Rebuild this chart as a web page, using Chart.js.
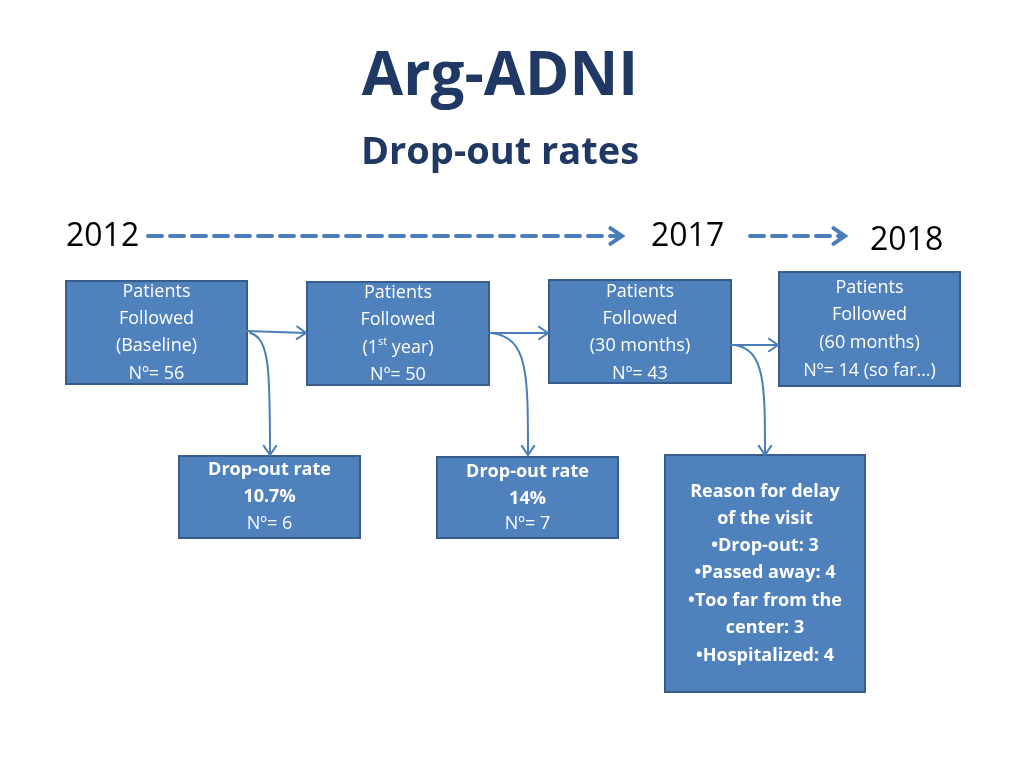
<!DOCTYPE html>
<html><head><meta charset="utf-8">
<script src="https://cdn.jsdelivr.net/npm/chart.js@4"></script>
<style>html,body{margin:0;padding:0;background:#fff}#c{display:block}</style>
</head><body>
<div style="width:1024px;height:768px"><canvas id="c"></canvas></div>
<script>
// Content
const title = "Arg-ADNI";
const subtitle = "Drop-out rates";
const years = ["2012", "2017", "2018"];
const boxTexts = [
  [["Patients",0],["Followed",0],["(Baseline)",0],["Nº= 56",0]],
  [["Patients",0],["Followed",0],["1st year)",0],["Nº= 50",0]],
  [["Patients",0],["Followed",0],["(30 months)",0],["Nº= 43",0]],
  [["Patients",0],["Followed",0],["(60 months)",0],["Nº= 14 (so far…)",0]],
  [["Drop-out rate",1],["10.7%",1],["Nº= 6",0]],
  [["Drop-out rate",1],["14%",1],["Nº= 7",0]],
  [["Reason for delay",1],["of the visit",1],["•Drop-out: 3",1],["•Passed away: 4",1],["•Too far from the",1],["center: 3",1],["•Hospitalized: 4",1]]
];
// Layout (in the 1024x768 value space of the scales)
const boxRects = [[66,281,247,384],[307,282,489,385],[549,280,731,383],[779,272,960,386],[179,456,360,538],[437,457,618,538],[665,455,865,692]];
const boxLineY = [[292,319,346,374],[293,320,348,375],[292,319,346,374],[288,315,343,371],[470,497,524],[472,499,524],[492,519,546,573,601,628,656]];
const yearPos = [[66,237],[651,237],[870,241]];

const centers = boxRects.map(r=>({x:(r[0]+r[2])/2,y:(r[1]+r[3])/2}));

const drawPlugin = {
  id:'flow',
  afterDatasetsDraw(chart){
    const ctx = chart.ctx, X=v=>chart.scales.x.getPixelForValue(v), Y=v=>chart.scales.y.getPixelForValue(v);
    const font = '"Open Sans", "Lato", sans-serif';
    ctx.save();
    ctx.textAlign='center'; ctx.textBaseline='middle';
    ctx.fillStyle='#1F3864';
    ctx.font='bold 60px '+font; ctx.fillText(title, X(500), Y(78));
    ctx.font='bold 38px '+font; ctx.fillText(subtitle, X(500), Y(153));
    ctx.fillStyle='#000'; ctx.textAlign='left'; ctx.font='32px '+font;
    years.forEach((t,i)=>ctx.fillText(t, X(yearPos[i][0]), Y(yearPos[i][1])));
    // boxes
    boxRects.forEach((r,i)=>{
      ctx.fillStyle='#4F81BD'; ctx.strokeStyle='#385D8A'; ctx.lineWidth=2;
      ctx.fillRect(X(r[0]),Y(r[1]),X(r[2])-X(r[0]),Y(r[3])-Y(r[1]));
      ctx.strokeRect(X(r[0]),Y(r[1]),X(r[2])-X(r[0]),Y(r[3])-Y(r[1]));
      ctx.fillStyle='#fff'; ctx.textAlign='center';
      const cx = X((r[0]+r[2])/2);
      boxTexts[i].forEach((ln,j)=>{
        ctx.font=(ln[1]?'bold ':'')+'18px '+font;
        if(ln[0]==="1st year)"){
          ctx.font='18px '+font;
          const a="(1", s="st", b=" year)";
          const wa=ctx.measureText(a).width, wb=ctx.measureText(b).width;
          ctx.font='11px '+font; const ws=ctx.measureText(s).width;
          let x0=cx-(wa+ws+wb)/2; const y=Y(boxLineY[i][j]);
          ctx.textAlign='left'; ctx.font='18px '+font; ctx.fillText(a,x0,y);
          ctx.font='11px '+font; ctx.fillText(s,x0+wa,y-6);
          ctx.font='18px '+font; ctx.fillText(b,x0+wa+ws,y);
          ctx.textAlign='center';
        } else ctx.fillText(ln[0], cx, Y(boxLineY[i][j]));
      });
    });
    const col='#4A7EBB';
    function head(x,y,ang,sz){
      ctx.beginPath();
      ctx.moveTo(x-sz*Math.cos(ang-0.6), y-sz*Math.sin(ang-0.6));
      ctx.lineTo(x,y);
      ctx.lineTo(x-sz*Math.cos(ang+0.6), y-sz*Math.sin(ang+0.6));
      ctx.stroke();
    }
    ctx.strokeStyle=col; ctx.lineCap='round';
    // dashed arrows
    ctx.lineWidth=4; ctx.setLineDash([14,8]);
    [[148,622],[750,845]].forEach(a=>{
      ctx.beginPath(); ctx.moveTo(X(a[0]),Y(236)); ctx.lineTo(X(a[1]-4),Y(236)); ctx.stroke();
    });
    ctx.setLineDash([]);
    head(X(622),Y(236),0,14); head(X(845),Y(236),0,14);
    // solid arrows
    ctx.lineWidth=2;
    [[247,331,306,333],[489,333,548,333],[731,345,778,345]].forEach(a=>{
      ctx.beginPath(); ctx.moveTo(X(a[0]),Y(a[1])); ctx.lineTo(X(a[2]),Y(a[3])); ctx.stroke();
      head(X(a[2]),Y(a[3]),Math.atan2(a[3]-a[1],a[2]-a[0]),11);
    });
    [[250,333,270,455],[492,333,528,455],[735,345,765,455]].forEach(a=>{
      ctx.beginPath(); ctx.moveTo(X(a[0]),Y(a[1]));
      ctx.bezierCurveTo(X(a[0]+a[2]-a[0]),Y(a[1]+5),X(a[2]),Y(a[1]+40),X(a[2]),Y(a[3]));
      ctx.stroke(); head(X(a[2]),Y(a[3]),Math.PI/2,11);
    });
    ctx.restore();
  }
};

new Chart(document.getElementById('c'),{
  type:'scatter',
  data:{datasets:[{data:centers,pointRadius:0}]},
  options:{
    responsive:true,maintainAspectRatio:false,animation:false,
    layout:{padding:0},
    plugins:{legend:{display:false},tooltip:{enabled:false}},
    scales:{
      x:{type:'linear',min:0,max:1024,display:false},
      y:{type:'linear',min:0,max:768,reverse:true,display:false}
    }
  },
  plugins:[drawPlugin]
});
</script>
</body></html>
